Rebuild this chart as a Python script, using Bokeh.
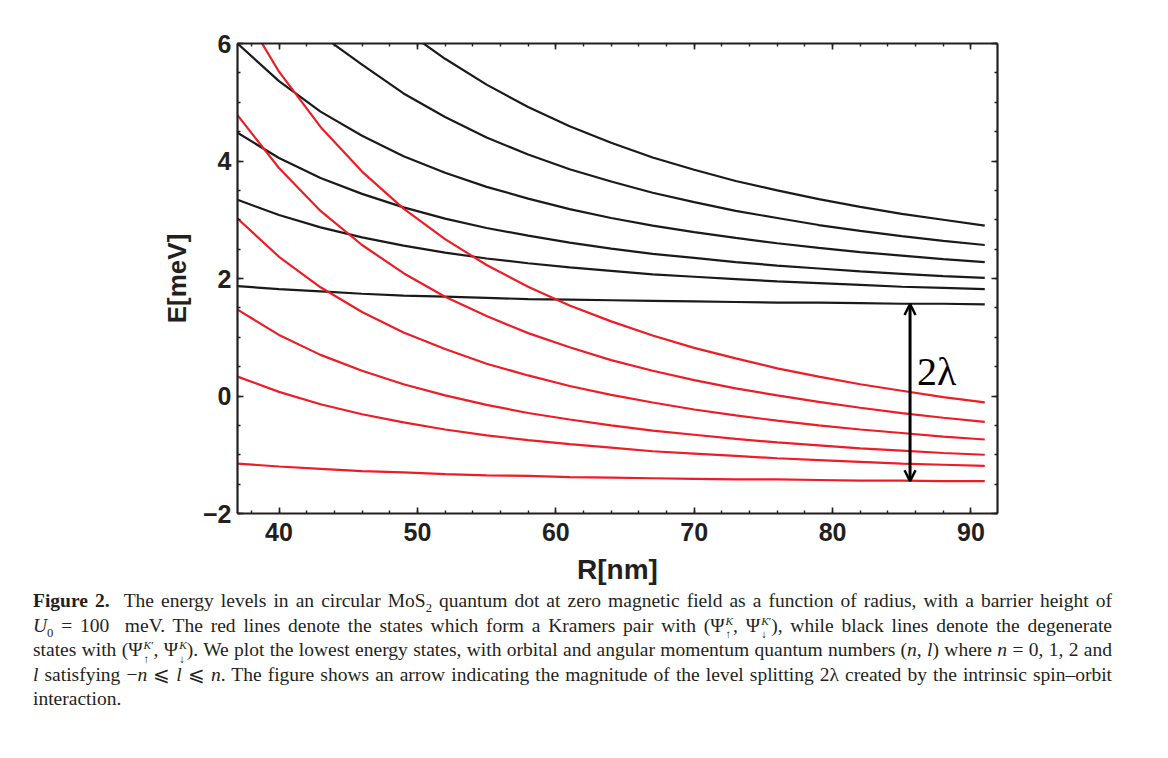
from bokeh.plotting import figure
from bokeh.models import (Range1d, LinearAxis, FixedTicker, Arrow, OpenHead, Label,
                          Div, CustomJSTickFormatter)
from bokeh.layouts import column
from bokeh.embed import file_html
from bokeh.resources import INLINE

# ---------------- data ----------------
R_nm = [37, 40, 43, 46, 49, 52, 55, 58, 61, 64, 67, 70, 73, 76, 79, 82, 85, 88, 91]

# black lines: degenerate states (Psi_up^K', Psi_down^K)
black_1 = [1.87, 1.82, 1.78, 1.74, 1.71, 1.69, 1.67, 1.65, 1.64, 1.63, 1.62, 1.61, 1.60, 1.59, 1.59, 1.58, 1.57, 1.57, 1.56]
black_2 = [3.34, 3.08, 2.87, 2.70, 2.56, 2.44, 2.34, 2.26, 2.19, 2.13, 2.07, 2.03, 1.99, 1.95, 1.92, 1.89, 1.86, 1.84, 1.82]
black_3 = [4.48, 4.05, 3.71, 3.44, 3.21, 3.02, 2.86, 2.73, 2.61, 2.51, 2.42, 2.35, 2.28, 2.22, 2.17, 2.12, 2.08, 2.04, 2.01]
black_4 = [6.00, 5.36, 4.84, 4.43, 4.08, 3.80, 3.56, 3.36, 3.18, 3.03, 2.90, 2.79, 2.69, 2.60, 2.52, 2.45, 2.39, 2.33, 2.28]
black_5 = [7.90, 6.98, 6.15, 5.64, 5.15, 4.75, 4.40, 4.11, 3.86, 3.65, 3.46, 3.30, 3.15, 3.03, 2.91, 2.81, 2.72, 2.64, 2.57]
black_6 = [9.86, 8.66, 7.70, 6.92, 6.24, 5.74, 5.30, 4.92, 4.59, 4.31, 4.06, 3.85, 3.66, 3.50, 3.35, 3.22, 3.10, 3.00, 2.90]

# red lines: Kramers pair (Psi_up^K, Psi_down^K')
red_1 = [-1.15, -1.20, -1.24, -1.28, -1.30, -1.33, -1.35, -1.36, -1.38, -1.39, -1.40, -1.41, -1.42, -1.42, -1.43, -1.44, -1.44, -1.45, -1.45]
red_2 = [0.33, 0.07, -0.14, -0.31, -0.45, -0.57, -0.67, -0.75, -0.82, -0.88, -0.94, -0.98, -1.02, -1.06, -1.09, -1.12, -1.15, -1.17, -1.19]
red_3 = [1.47, 1.04, 0.70, 0.43, 0.20, 0.01, -0.15, -0.29, -0.40, -0.50, -0.59, -0.66, -0.73, -0.79, -0.84, -0.89, -0.93, -0.97, -1.00]
red_4 = [3.02, 2.37, 1.85, 1.43, 1.08, 0.80, 0.55, 0.35, 0.17, 0.02, -0.11, -0.23, -0.33, -0.42, -0.50, -0.57, -0.63, -0.69, -0.74]
red_5 = [4.78, 3.88, 3.15, 2.57, 2.09, 1.69, 1.36, 1.07, 0.83, 0.61, 0.43, 0.27, 0.13, 0.01, -0.10, -0.20, -0.29, -0.37, -0.44]
red_6 = [6.70, 5.52, 4.58, 3.82, 3.19, 2.67, 2.23, 1.86, 1.54, 1.27, 1.03, 0.82, 0.64, 0.47, 0.33, 0.20, 0.09, -0.02, -0.11]

black_lines = [black_1, black_2, black_3, black_4, black_5, black_6]
red_lines = [red_1, red_2, red_3, red_4, red_5, red_6]

x_major = [40, 50, 60, 70, 80, 90]
x_minor = [38, 40, 42, 44, 46, 48, 50, 52, 54, 56, 58, 60, 62, 64, 66, 68, 70, 72, 74, 76, 78, 80, 82, 84, 86, 88, 90, 92]
y_major = [-2, 0, 2, 4, 6]
y_minor = [-2, -1.5, -1, -0.5, 0, 0.5, 1, 1.5, 2, 2.5, 3, 3.5, 4, 4.5, 5, 5.5, 6]

# splitting arrow (2 lambda) at R = 85.6 nm
arrow_R = 85.6
split_top = 1.565
split_bottom = -1.45
split_label = "2λ"
split_label_E = 0.42

x_label = "R[nm]"
y_label = "E[meV]"

# ---------------- figure ----------------
AX = "#231f20"
p = figure(width=1017, height=593, x_range=Range1d(37.0, 91.92), y_range=Range1d(-2, 6),
           output_backend="svg", toolbar_location=None,
           min_border_left=237, min_border_right=20, min_border_top=43, min_border_bottom=80)
p.grid.visible = False
p.outline_line_color = None
p.background_fill_color = "white"
p.border_fill_color = "white"

for ys in black_lines:
    p.line(R_nm, ys, line_color="#1a1a1a", line_width=2.2)
for ys in red_lines:
    p.line(R_nm, ys, line_color="#ee1c25", line_width=2.2)

def style_axis(ax, ticker):
    ax.ticker = ticker
    ax.axis_line_color = AX
    ax.axis_line_width = 2.2
    ax.major_tick_line_color = AX
    ax.minor_tick_line_color = AX
    ax.major_tick_line_width = 1.6
    ax.minor_tick_line_width = 1.4
    ax.major_tick_in = 6
    ax.major_tick_out = 0
    ax.minor_tick_in = 3
    ax.minor_tick_out = 0
    ax.major_label_text_font = "Liberation Sans"
    ax.major_label_text_font_style = "bold"
    ax.major_label_text_font_size = "25px"
    ax.major_label_text_color = AX
    ax.axis_label_text_font = "Liberation Sans"
    ax.axis_label_text_font_style = "bold"
    ax.axis_label_text_color = AX

xt = FixedTicker(ticks=x_major, minor_ticks=x_minor)
yt = FixedTicker(ticks=y_major, minor_ticks=y_minor)

style_axis(p.xaxis[0], xt)
p.xaxis[0].major_label_standoff = 9
p.xaxis[0].axis_label = x_label
p.xaxis[0].axis_label_text_font_size = "28px"
p.xaxis[0].axis_label_standoff = 10

style_axis(p.yaxis[0], yt)
p.yaxis[0].major_label_standoff = 6
p.yaxis[0].major_label_overrides = {-2: "\u22122"}
p.yaxis[0].axis_label = y_label
p.yaxis[0].axis_label_text_font_size = "26px"
p.yaxis[0].axis_label_standoff = 8

blank = CustomJSTickFormatter(code="return ''")
top_ax = LinearAxis(formatter=blank)
style_axis(top_ax, FixedTicker(ticks=x_major, minor_ticks=x_minor))
top_ax.major_label_standoff = 0
p.add_layout(top_ax, "above")
right_ax = LinearAxis(formatter=blank)
style_axis(right_ax, FixedTicker(ticks=y_major, minor_ticks=y_minor))
right_ax.major_label_standoff = 0
p.add_layout(right_ax, "right")

p.add_layout(Arrow(start=OpenHead(size=11, line_width=2.5, line_color="black"),
                   end=OpenHead(size=11, line_width=2.5, line_color="black"),
                   x_start=arrow_R, y_start=split_top, x_end=arrow_R, y_end=split_bottom,
                   line_width=3, line_color="black"))
p.add_layout(Label(x=arrow_R, y=split_label_E, x_offset=7, text=split_label,
                   text_font="Liberation Serif", text_font_size="40px",
                   text_color="black", text_baseline="middle"))

# ---------------- caption ----------------
def stack(sup, sub):
    return ('<span style="display:inline-block;vertical-align:-0.6em;line-height:1.2;'
            'font-size:0.58em;text-align:left;margin-left:1px">' + sup + '<br>' + sub + '</span>')

S = '<sub style="font-size:0.65em;line-height:0">'
lines = [
    '<b>Figure\u00a02.</b>\u00a0\u00a0The energy levels in an circular MoS' + S + '2</sub> '
    'quantum dot at zero magnetic field as a function of radius, with a barrier height of',
    '<i>U</i>' + S + '0</sub>\u00a0=\u00a0100\u00a0\u00a0meV. The red lines denote the states which '
    'form a Kramers pair with (\u03a8' + stack('<i>K</i>', '\u2191') + ',\u00a0\u03a8' + stack('<i>K</i>\u2032', '\u2193') +
    '), while black lines denote the degenerate',
    'states with (\u03a8' + stack('<i>K</i>\u2032', '\u2191') +
    ',\u00a0\u03a8' + stack('<i>K</i>', '\u2193') + '). We plot the lowest energy states, with orbital and angular '
    'momentum quantum numbers (<i>n</i>,\u00a0<i>l</i>) where <i>n</i>\u00a0=\u00a00,\u00a01,\u00a02 and',
    '<i>l</i> satisfying \u2212<i>n</i>\u00a0\u2a7d\u00a0<i>l</i>\u00a0\u2a7d\u00a0<i>n</i>. The figure shows an arrow '
    'indicating the magnitude of the level splitting 2\u03bb created by the intrinsic spin\u2013orbit',
    'interaction.',
]
line_divs = []
for i, t in enumerate(lines):
    last = (i == len(lines) - 1)
    line_divs.append(
        '<div style="height:24.6px;line-height:24.6px;white-space:nowrap;overflow:visible;'
        'text-align:' + ('left' if last else 'justify') + ';text-align-last:' +
        ('left' if last else 'justify') + '">' + t + '</div>')

caption_html = (
    '<div style="margin-left:28px;margin-top:-9px;width:1079px;'
    'font-family:\'Liberation Serif\';font-size:19.5px;color:#231f20;">'
    + ''.join(line_divs) + '</div>'
)
cap = Div(text=caption_html, width=1140, height=150)

layout = column(p, cap)
open("out.html", "w").write(file_html(layout, INLINE))
